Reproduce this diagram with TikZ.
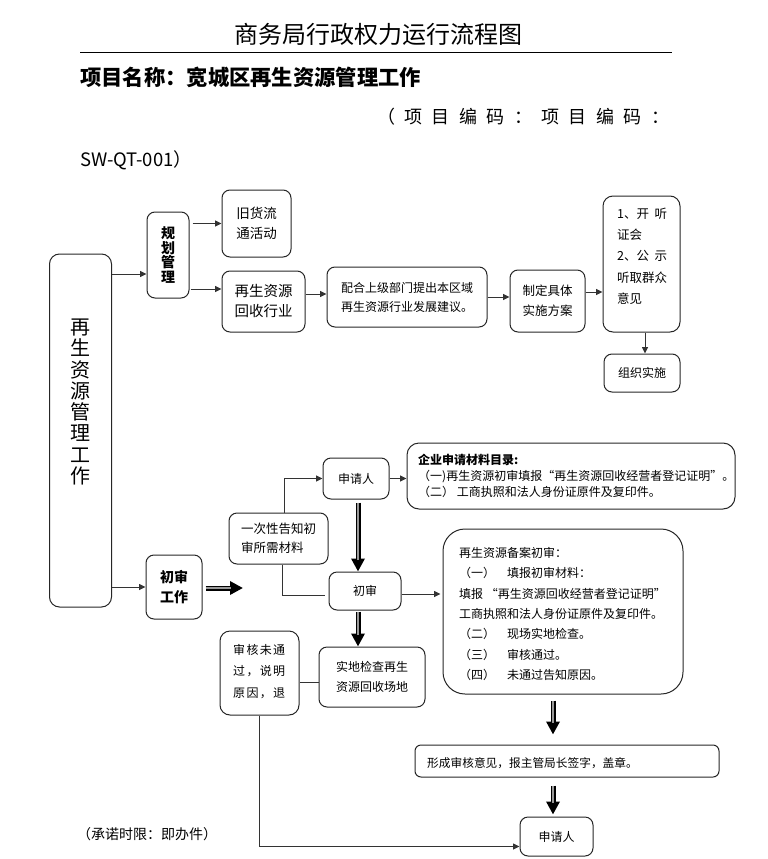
\documentclass[tikz,border=0pt]{standalone}
\usepackage{fontspec}
\setmainfont{Noto Sans CJK SC}
\usetikzlibrary{arrows.meta,calc}
\newcommand\myfs[2]{\fontsize{#1}{#2}\selectfont}
\newcommand\fatarr[5]{%
  \draw[fat, shorten <=#3, shorten >=#4] (#1) -- (#2);
  \draw[fatin, shorten <=#3, shorten >=#5] (#1) -- (#2);}
\begin{document}
\begin{tikzpicture}[x=1pt,y=-1pt,
  box/.style={draw=black!85, line width=1pt, rounded corners=8pt, inner sep=0pt, align=center},
  arr/.style={draw=black!80, line width=0.9pt, -{Triangle[length=6.5pt,width=6pt]}},
  ln/.style={draw=black!80, line width=0.9pt},
  fat/.style={draw=black, line width=5pt, -{Triangle[length=13pt,width=13pt]}},
  fatin/.style={draw=black!40, line width=1.4pt},
  txt/.style={inner sep=0pt, align=left, anchor=west},
]
\useasboundingbox (0,0) rectangle (768,859);

% header
\node[inner sep=0pt, font=\myfs{24}{26}] (title) at (378,34.5) {商务局行政权力运行流程图};
\draw[line width=0.8pt] (80,52) -- (672,52);
\node[txt, font=\myfs{21.3}{24}\bfseries] (proj) at (80,77) {项目名称：宽城区再生资源管理工作};
\node[txt, font=\myfs{18}{20}] (code1) at (377,117) {\makebox[292pt]{（\hfill 项\hfill 目\hfill 编\hfill 码\hfill ：\hfill 项\hfill 目\hfill 编\hfill 码\hfill ：}};
\node[txt, font=\myfs{18.5}{20}] (code2) at (80,160) {SW-QT-001）};

% upper part
\node[box, rounded corners=10pt, minimum width=62pt, minimum height=353pt] (big) at (80.5,430.5) {};
\node[inner sep=0pt, align=center, font=\myfs{20}{21.25}] (bigt) at (80,402) {再\\生\\资\\源\\管\\理\\工\\作};
\node[box, minimum width=42pt, minimum height=86pt, font=\myfs{14}{14.5}\bfseries] (guihua) at (168,255) {规\\划\\管\\理};
\node[box, minimum width=69pt, minimum height=67pt, font=\myfs{13.5}{20}, align=left] (jiuhuo) at (256.5,223.5) {旧货流\\通活动};
\node[box, minimum width=83pt, minimum height=61pt, font=\myfs{14.5}{20}, align=left] (zaisheng) at (263.5,301.5) {再生资源\\回收行业};
\node[box, minimum width=160pt, minimum height=60pt, font=\myfs{12}{19}, align=left] (peihe) at (407,297) {配合上级部门提出本区域\\再生资源行业发展建议。};
\node[box, minimum width=75pt, minimum height=62pt, font=\myfs{12.5}{20}, align=left] (zhiding) at (547.5,301) {制定具体\\实施方案};
\node[box, rounded corners=10pt, minimum width=77pt, minimum height=136pt] (ting) at (641.5,264) {};
\node[txt, font=\myfs{12.5}{21.3}] (tingt) at (617,256) {\makebox[50pt]{1、开\hfill 听}\\证会\\\makebox[50pt]{2、公\hfill 示}\\听取群众\\意见};
\node[box, minimum width=76pt, minimum height=38pt, font=\myfs{12}{14}] (zuzhi) at (642,373) {组织实施};

\coordinate (g1) at ([yshift=-19pt]guihua.west);
\draw[arr] (big.east |- g1) -- (g1);
\draw[arr, shorten <=3pt] (guihua.east |- jiuhuo.west) -- (jiuhuo.west);
\coordinate (z1) at ([yshift=12.5pt]zaisheng.west);
\draw[arr, shorten <=1pt] (guihua.east |- z1) -- (z1);
\coordinate (p1) at ([yshift=3pt]peihe.west);
\draw[arr] (zaisheng.east |- p1) -- (p1);
\draw[arr] (peihe.east) -- (peihe.east -| zhiding.west);
\coordinate (zd1) at ([yshift=9pt]zhiding.east);
\draw[arr] (zd1) -- (zd1 -| ting.west);
\coordinate (t1) at ([xshift=3.5pt]ting.south);
\draw[arr] (t1) -- (t1 |- zuzhi.north);

% lower part
\node[box, minimum width=56pt, minimum height=64pt, font=\myfs{14}{20}\bfseries] (csgz) at (174,587) {初审\\工作};
\node[box, minimum width=99pt, minimum height=51pt, font=\myfs{12.5}{19}, align=left] (yici) at (278.5,538.5) {一次性告知初\\审所需材料};
\node[box, minimum width=66pt, minimum height=41pt, font=\myfs{12}{14}] (sqr1) at (356,478.5) {申请人};
\node[box, rounded corners=12pt, minimum width=328pt, minimum height=66pt] (mat) at (571,476) {};
\node[txt, font=\myfs{12}{16}] (matt) at (418,476) {{\bfseries 企业申请材料目录:}\\（一)再生资源初审填报“再生资源回收经营者登记证明”。\\（二） 工商执照和法人身份证原件及复印件。};
\node[box, minimum width=72pt, minimum height=38pt, font=\myfs{12}{14}] (cs) at (365,591) {初审};
\node[box, rounded corners=22pt, minimum width=240pt, minimum height=165pt] (bigtext) at (563,611.5) {};
\node[txt, font=\myfs{12}{20.3}] (bigtextt) at (459,614) {再生资源备案初审：\\（一）\hspace{12pt}填报初审材料：\\填报 “再生资源回收经营者登记证明”\\工商执照和法人身份证原件及复印件。\\（二）\hspace{12pt}现场实地检查。\\（三）\hspace{12pt}审核通过。\\（四）\hspace{12pt}未通过告知原因。};
\node[box, minimum width=106pt, minimum height=60pt, font=\myfs{12}{20}, align=left] (shidi) at (372,677) {实地检查再生\\资源回收场地};
\node[box, rounded corners=10pt, minimum width=79pt, minimum height=84pt] (shenhe) at (259.5,673) {};
\node[txt, font=\myfs{12}{21.5}] (shenhet) at (233,671.5) {\makebox[52pt]{审\hfill 核\hfill 未\hfill 通}\\\makebox[52pt]{过\hfill ，\hfill 说\hfill 明}\\\makebox[52pt]{原\hfill 因\hfill ，\hfill 退}};
\node[box, rounded corners=6pt, minimum width=304pt, minimum height=32pt] (xc) at (567,761) {};
\node[txt, font=\myfs{11.7}{14}] (xct) at (427,763) {形成审核意见，报主管局长签字，盖章。};
\node[box, minimum width=73pt, minimum height=39pt, font=\myfs{12}{14}] (sqr2) at (556.5,836.5) {申请人};
\node[txt, font=\myfs{14}{16}] (note) at (77,834) {（承诺时限：即办件）};

\draw[arr] (big.east |- csgz.west) -- (csgz.west);
\coordinate (f1) at (243,588);
\coordinate (f0) at (csgz.east |- f1);
\fatarr{f0}{f1}{3pt}{0pt}{12pt}
\coordinate (y1) at ([xshift=5.5pt]yici.north);
\draw[arr] (y1) |- (sqr1.west);
\coordinate (y2) at ([xshift=3.5pt]yici.south);
\coordinate (c2) at ([yshift=-4pt,xshift=-4pt]cs.west);
\draw[ln] (y2) |- (c2);
\draw[arr] (sqr1.east) -- (sqr1.east -| mat.west);
\coordinate (s1) at ([xshift=2pt]sqr1.south);
\fatarr{s1}{s1 |- cs.north}{3pt}{0pt}{12pt}
\coordinate (cs1) at ([yshift=-3pt]cs.east);
\draw[arr, shorten >=2pt] (cs1) -- (cs1 -| bigtext.west);
\coordinate (s2) at ([xshift=-7pt]cs.south);
\fatarr{s2}{s2 |- shidi.north}{1pt}{0pt}{12pt}
\coordinate (sd1) at ([yshift=-5pt]shidi.west);
\draw[ln] (sd1) -- (sd1 -| shenhe.east);
\coordinate (q1) at ([yshift=-10pt]sqr2.west);
\draw[arr] (shenhe.south) |- (q1);
\coordinate (b1) at ([yshift=-6pt,xshift=-10pt]bigtext.south);
\fatarr{b1}{b1 |- xc.north}{0pt}{10pt}{22pt}
\coordinate (x1) at ([xshift=-14pt]xc.south);
\fatarr{x1}{x1 |- sqr2.north}{8pt}{2pt}{14pt}
\end{tikzpicture}
\end{document}
